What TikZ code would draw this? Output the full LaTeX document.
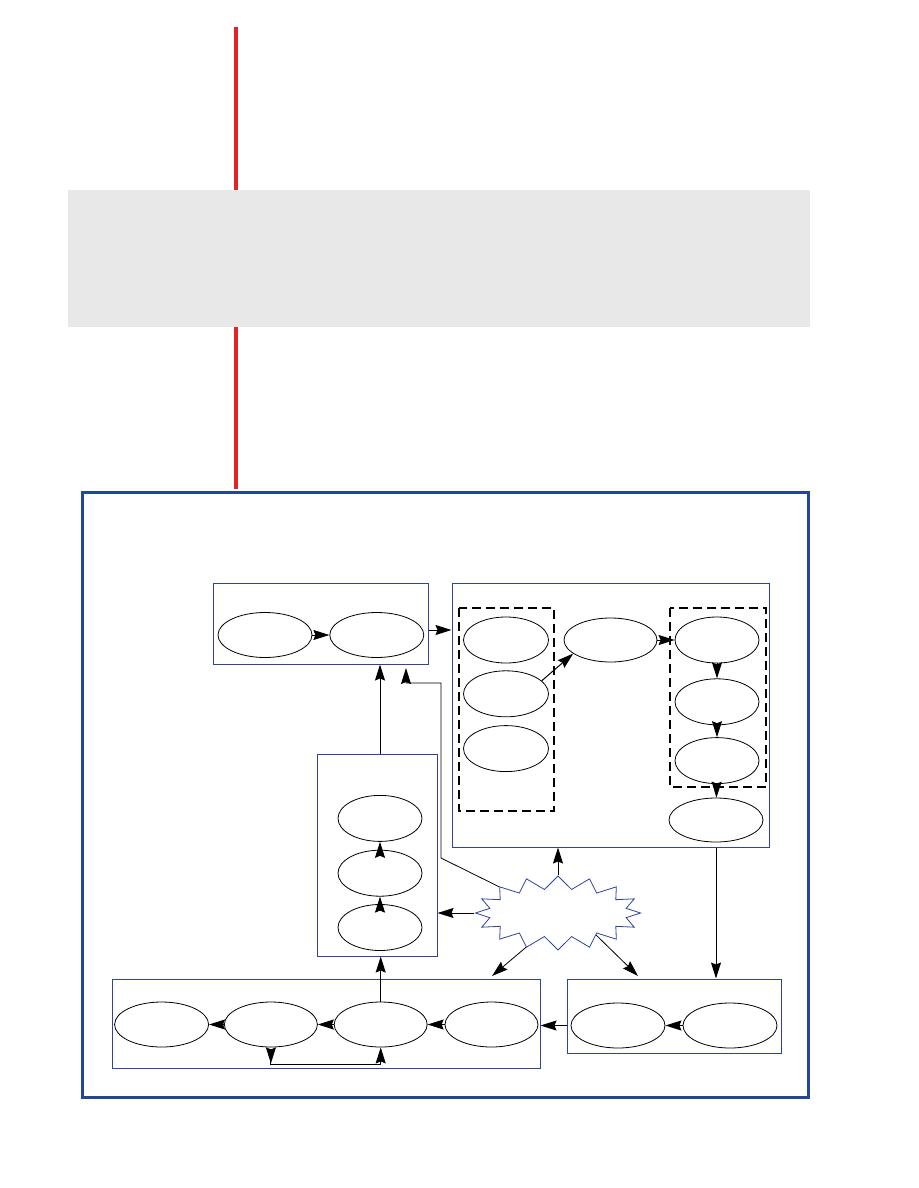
\documentclass[tikz,border=0pt]{standalone}
\usepackage{tikz}
\usetikzlibrary{arrows.meta,positioning,shapes.geometric,shapes.symbols}

\definecolor{framebl}{RGB}{34,70,154}
\definecolor{boxbl}{RGB}{48,66,156}
\definecolor{redline}{RGB}{224,36,40}
\definecolor{band}{RGB}{232,232,232}

\tikzset{
	wide/.style={draw, ellipse, line width=0.8pt, inner sep=0pt, minimum width=94pt, minimum height=45pt},
	narrow/.style={wide, minimum width=85pt, minimum height=46pt},
	cluster/.style={draw=boxbl, line width=1pt, inner sep=0pt},
	dashbox/.style={draw, line width=2pt, dash pattern=on 9pt off 5pt},
	edge/.style={-{Stealth[length=16pt, width=10pt, inset=2pt]}, line width=1pt},
	twoway/.style={{Stealth[length=16pt, width=10pt, inset=2pt, reversed]}-{Stealth[length=16pt, width=10pt, inset=2pt]}, line width=1pt},
}

\begin{document}
\begin{tikzpicture}[x=1pt, y=-1pt]
	\useasboundingbox (0,0) rectangle (918,1188);
	\draw[redline, line width=3.2pt] (236,27) -- (236,489);
	\fill[band] (68,190) rectangle (810,327);
	\draw[framebl, line width=3pt] (82.5,492.5) rectangle (808,1097.5);

	\node (clA) [cluster, minimum width=215pt, minimum height=81pt] at (320.5,623.5) {};
	\node (clB) [cluster, minimum width=317pt, minimum height=264pt] at (610.5,715) {};
	\node (clC) [cluster, minimum width=120pt, minimum height=202pt] at (377,855) {};
	\node (clE) [cluster, minimum width=428pt, minimum height=89pt] at (326,1023.5) {};
	\node (clF) [cluster, minimum width=214pt, minimum height=74pt] at (674,1016) {};
	\draw[dashbox] (459,608) rectangle (554,811);
	\draw[dashbox] (670,608) rectangle (766,787);

	\node (a1) [wide] at (265,635) {};
	\node (a2) [wide, right=17pt of a1] {};

	\node (b1) [narrow] at (506,640) {};
	\node (b2) [narrow, below=7pt of b1] {};
	\node (b3) [narrow, below=8pt of b2] {};
	\node (bm) [wide, minimum width=93pt, minimum height=44pt] at (610.5,640) {};
	\node (r1) [narrow, minimum width=84pt] at (717,640) {};
	\node (r2) [narrow, minimum width=84pt, below=15pt of r1] {};
	\node (r3) [narrow, minimum width=84pt, below=12pt of r2] {};
	\node (r4) [wide, minimum height=44pt] at (716,820) {};

	\node (c1) [narrow, minimum width=84pt] at (380,927.5) {};
	\node (c2) [narrow, minimum width=84pt, above=7.5pt of c1] {};
	\node (c3) [narrow, minimum width=84pt, above=8pt of c2] {};

	\node (e4) [wide, minimum width=93pt] at (491.5,1024.5) {};
	\node (e3) [wide, minimum width=93pt, left=17pt of e4] {};
	\node (e2) [wide, minimum width=93pt, left=16pt of e3] {};
	\node (e1) [wide, minimum width=94pt, left=15pt of e2] {};
	\node (f1) [wide] at (618,1025.5) {};
	\node (f2) [wide] at (730,1025.5) {};

	\node (burst) [draw=boxbl, starburst, starburst points=16, starburst point height=13pt, random starburst=0, minimum width=165pt, minimum height=74pt, line width=0.8pt, inner sep=0pt] at (558,913) {};

	\draw[edge] (a1) -- (a2);
	\coordinate (aout) at ([yshift=-6.5pt]clA.east);
	\draw[edge] (aout) -- (aout -| clB.west);
	\draw[edge] (b2.20) -- (bm.200);
	\draw[edge] (bm) -- (r1);
	\draw[edge] (r1) -- (r2);
	\draw[edge] (r2) -- (r3);
	\draw[edge] (r3) -- (r4);
	\draw[edge] (r4 |- clB.south) -- (r4 |- clF.north);

	\draw[edge] (f2) -- (f1);
	\coordinate (fout) at (f1.west -| clF.west);
	\draw[edge] (fout) -- (fout -| clE.east);
	\draw[edge] (e4) -- (e3);
	\draw[edge] (e3) -- (e2);
	\draw[edge] (e2) -- (e1);
	\draw[twoway] (e2.south) -- ++(0,17) -| (e3.south);
	\draw[edge] (e3) -- (e3 |- clC.south);

	\draw[edge] (c1) -- (c2);
	\draw[edge] (c2) -- (c3);
	\draw[edge] (clC.north -| c3) -- (clA.south -| c3);

	\coordinate (intoE) at (492,976);
	\coordinate (intoF) at (638,976);
	\coordinate (bend) at (441,858);
	\coordinate (intoA) at (406,668);
	\draw[edge] (burst.90) -- (burst.90 |- clB.south);
	\draw[edge] (burst.180) -- (burst.180 -| clC.east);
	\draw[edge, line width=0.8pt] (burst.227) -- (intoE);
	\draw[edge, line width=0.8pt] (burst.330) -- (intoF);
	\draw[edge, line width=0.8pt] (burst.156) -- (bend) |- ([yshift=-15pt]intoA) -- (intoA);
\end{tikzpicture}
\end{document}
